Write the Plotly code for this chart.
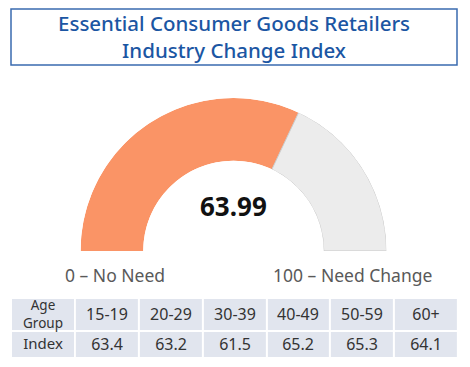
import plotly.graph_objects as go

title_lines = ["Essential Consumer Goods Retailers", "Industry Change Index"]
index_value = 63.99
gauge_min, gauge_max = 0, 100
min_label = "0 – No Need"
max_label = "100 – Need Change"
row_header = ["Age<br>Group", "Index"]
age_groups = ["15-19", "20-29", "30-39", "40-49", "50-59", "60+"]
age_index = [63.4, 63.2, 61.5, 65.2, 65.3, 64.1]

W, H = 470, 367
span = gauge_max - gauge_min
frac = (index_value - gauge_min) / span
deg_val = 180 * frac

fig = go.Figure()

# gauge as two polar bars on a half-disc
fig.add_trace(go.Barpolar(
    r=[1], theta=[deg_val / 2], width=[deg_val],
    marker=dict(color="#FA9466", line=dict(width=0)),
    hoverinfo="skip", showlegend=False,
))
fig.add_trace(go.Barpolar(
    r=[1], theta=[deg_val + (180 - deg_val) / 2], width=[180 - deg_val],
    marker=dict(color="#ECECEC", line=dict(color="#C9C9C9", width=1)),
    hoverinfo="skip", showlegend=False,
))

cx, R, base_y = 233.5, 153, 251
fig.update_layout(
    polar=dict(
        domain=dict(x=[(cx - R) / W, (cx + R) / W], y=[1 - base_y / H, 1 - (base_y - R) / H]),
        sector=[0, 180],
        hole=0.59,
        bgcolor="rgba(0,0,0,0)",
        radialaxis=dict(range=[0, 1], visible=False),
        angularaxis=dict(visible=False, direction="clockwise", rotation=180),
        bargap=0,
    )
)

# table drawn as heatmap grids (top row = age groups, bottom row = index)
ncol = len(age_groups) + 1
row_edges = [0, 26, 57]
cell_style = dict(
    colorscale=[[0, "#E1E5EE"], [1, "#E1E5EE"]],
    showscale=False, xgap=2, ygap=2, hoverinfo="skip",
    texttemplate="%{text}", xaxis="x", yaxis="y",
)
# first column (row headers)
fig.add_trace(go.Heatmap(
    z=[[0], [0]], x=[0, 1], y=row_edges,
    text=[[f"<span style='font-size:15px'>{row_header[1]}</span>"], [row_header[0]]],
    textfont=dict(family="Noto Sans", size=13.5, color="#333333"),
    **cell_style,
))
# data columns
fig.add_trace(go.Heatmap(
    z=[[0] * len(age_groups), [0] * len(age_groups)],
    x=list(range(1, ncol + 1)), y=row_edges,
    text=[[f"{v:.1f}" for v in age_index], age_groups],
    textfont=dict(family="Noto Sans", size=16, color="#333333"),
    **cell_style,
))
fig.update_layout(
    xaxis=dict(domain=[11 / W, 458 / W], range=[0, ncol], visible=False, fixedrange=True),
    yaxis=dict(domain=[1 - 358 / H, 1 - 298 / H], range=[0, 57], visible=False, fixedrange=True),
)

annotations = [
    dict(text="<br>".join(title_lines), x=234 / W, y=1 - 36 / H, xref="paper", yref="paper",
         showarrow=False, font=dict(family="Noto Sans", size=20.5, color="#1B56A3", weight=500),
         xanchor="center", yanchor="middle"),
    dict(text=f"<b>{index_value:.2f}</b>", x=cx / W, y=1 - 206 / H, xref="paper", yref="paper",
         showarrow=False, font=dict(family="Noto Sans", size=26, color="#111111"),
         xanchor="center", yanchor="middle"),
    dict(text=min_label, x=114.5 / W, y=1 - 275 / H, xref="paper", yref="paper",
         showarrow=False, font=dict(family="Noto Sans", size=17.5, color="#595959"),
         xanchor="center", yanchor="middle"),
    dict(text=max_label, x=352.5 / W, y=1 - 275 / H, xref="paper", yref="paper",
         showarrow=False, font=dict(family="Noto Sans", size=17.5, color="#595959"),
         xanchor="center", yanchor="middle"),
]

fig.update_layout(
    width=W, height=H,
    margin=dict(l=0, r=0, t=0, b=0),
    paper_bgcolor="white", plot_bgcolor="white",
    annotations=annotations,
    shapes=[dict(type="rect", xref="paper", yref="paper",
                 x0=11 / W, x1=457 / W, y0=1 - 65 / H, y1=1 - 9 / H,
                 line=dict(color="#3A6BB0", width=1.5), fillcolor="rgba(0,0,0,0)")],
    showlegend=False,
)

fig.write_html("out.html", config={"displayModeBar": False},
               post_script="document.body.style.margin='0px';")
